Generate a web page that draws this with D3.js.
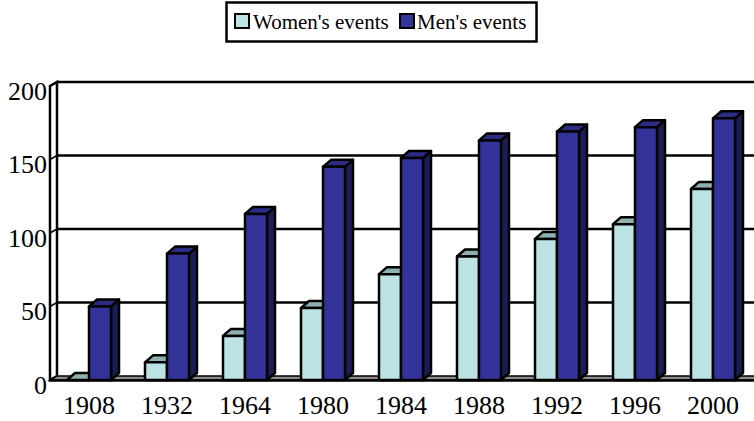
<!DOCTYPE html>
<html>
<head>
<meta charset="utf-8">
<script src="https://cdn.jsdelivr.net/npm/d3@7"></script>
<style>
  html, body { margin: 0; padding: 0; background: #fff; }
  svg { display: block; font-family: "Liberation Serif", "Times New Roman", serif; }
</style>
</head>
<body>
<svg id="chart" width="754" height="421"></svg>
<script>
const years = ["1908", "1932", "1964", "1980", "1984", "1988", "1992", "1996", "2000"];
const womenEvents = [0, 12, 30, 49, 72, 84, 96, 106, 130];
const menEvents = [50, 86, 113, 145, 151, 163, 169, 172, 178];
const yTicks = [0, 50, 100, 150, 200];
const seriesNames = ["Women's events", "Men's events"];

const svg = d3.select("#chart");
const W = 754, H = 421;

// geometry
const plotLeft = 50, plotRight = 752;
const baseFront = 380, topFront = 86;
const wallDx = 7, wallDy = -4;
const barDx = 8, barDy = -7;
const barW = 22;

const x = d3.scaleBand().domain(years).range([plotLeft, plotRight]).padding(0);
const yFront = d3.scaleLinear().domain([0, 200]).range([baseFront, topFront]);
const yBack = d3.scaleLinear().domain([0, 200]).range([baseFront + wallDy, topFront + wallDy]);

const colors = {
  women: { front: "#bde2e4", top: "#8fb0b0", side: "#6f9595" },
  men: { front: "#333399", top: "#2c2c85", side: "#1d1d55" }
};

const g = svg.append("g");

// left wall
const bx = plotLeft + wallDx;
g.append("path")
  .attr("d", `M${plotLeft},${baseFront} L${plotLeft},${yFront(200)} L${bx},${yBack(200)} L${bx},${yBack(0)} Z`)
  .attr("fill", "#fff").attr("stroke", "#000").attr("stroke-width", 2.5);

// gridlines on back wall + diagonal across left wall
yTicks.forEach(v => {
  if (v === 0) return;
  g.append("line")
    .attr("x1", bx).attr("x2", W + 10)
    .attr("y1", yBack(v)).attr("y2", yBack(v))
    .attr("stroke", "#000").attr("stroke-width", 2.5);
  g.append("line")
    .attr("x1", plotLeft).attr("y1", yFront(v))
    .attr("x2", bx).attr("y2", yBack(v))
    .attr("stroke", "#000").attr("stroke-width", 1.5);
});

// floor
g.append("path")
  .attr("d", `M${plotLeft},${baseFront} L${bx},${yBack(0)} L${plotRight + wallDx + 10},${yBack(0)} L${plotRight + 10},${baseFront} Z`)
  .attr("fill", "#8c8c8c").attr("stroke", "#000").attr("stroke-width", 1.5);
g.append("line")
  .attr("x1", plotLeft).attr("x2", W)
  .attr("y1", baseFront + 0.5).attr("y2", baseFront + 0.5)
  .attr("stroke", "#000").attr("stroke-width", 2.5);

// bars
function drawBar(x0, v, c) {
  const y0 = baseFront, y1 = yFront(v);
  const bg = g.append("g").attr("stroke", "#000").attr("stroke-width", 2.5).attr("stroke-linejoin", "round");
  // side
  bg.append("path")
    .attr("d", `M${x0 + barW},${y0} L${x0 + barW},${y1} L${x0 + barW + barDx},${y1 + barDy} L${x0 + barW + barDx},${y0 + barDy} Z`)
    .attr("fill", c.side);
  // top
  bg.append("path")
    .attr("d", `M${x0},${y1} L${x0 + barDx},${y1 + barDy} L${x0 + barW + barDx},${y1 + barDy} L${x0 + barW},${y1} Z`)
    .attr("fill", c.top);
  // front
  if (v > 0) {
    bg.append("rect")
      .attr("x", x0).attr("y", y1)
      .attr("width", barW).attr("height", y0 - y1)
      .attr("fill", c.front);
  }
}

years.forEach((yr, i) => {
  const cx = x(yr) + x.bandwidth() / 2;
  drawBar(cx - barW, womenEvents[i], colors.women);
  drawBar(cx, menEvents[i], colors.men);
});

// y axis labels
const yAxis = d3.axisLeft(yFront).tickValues(yTicks).tickSize(0).tickPadding(3);
const ya = svg.append("g").attr("transform", `translate(${plotLeft},5)`).call(yAxis);
ya.select(".domain").remove();
ya.selectAll("text")
  .attr("font-family", "'Liberation Serif', 'Times New Roman', serif")
  .attr("font-size", 26).attr("fill", "#000");

// x axis labels
const xAxis = d3.axisBottom(x).tickSize(0).tickPadding(16);
const xa = svg.append("g").attr("transform", `translate(0,${baseFront})`).call(xAxis);
xa.select(".domain").remove();
xa.selectAll("text")
  .attr("font-family", "'Liberation Serif', 'Times New Roman', serif")
  .attr("font-size", 26).attr("fill", "#000");

// legend
const lg = svg.append("g");
lg.append("rect").attr("x", 226.5).attr("y", 2.5).attr("width", 310).attr("height", 39)
  .attr("fill", "#fff").attr("stroke", "#000").attr("stroke-width", 2.5);
const legendItems = [
  { name: seriesNames[0], color: colors.women.front, sx: 235, tx: 253 },
  { name: seriesNames[1], color: colors.men.front, sx: 400, tx: 417 }
];
legendItems.forEach(d => {
  lg.append("rect").attr("x", d.sx).attr("y", 14).attr("width", 14).attr("height", 14)
    .attr("fill", d.color).attr("stroke", "#000").attr("stroke-width", 2);
  lg.append("text").attr("x", d.tx).attr("y", 28.5)
    .attr("font-size", 21).attr("fill", "#000").text(d.name);
});
</script>
</body>
</html>
